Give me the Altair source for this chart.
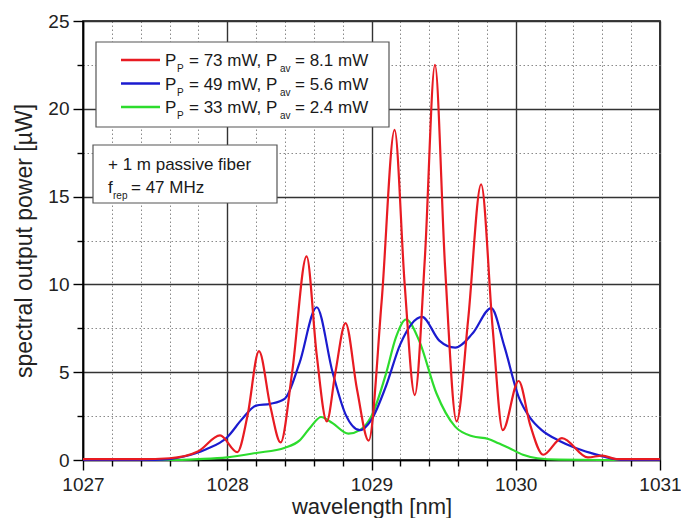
import altair as alt
import pandas as pd

FONT = "Liberation Sans"

# ---- data ----
red_wl = [1027.0, 1027.4, 1027.6, 1027.8, 1027.95, 1028.07, 1028.14, 1028.22, 1028.30, 1028.37,
          1028.45, 1028.55, 1028.62, 1028.69, 1028.75, 1028.82, 1028.90, 1028.98, 1029.07, 1029.16,
          1029.23, 1029.30, 1029.37, 1029.44, 1029.51, 1029.59, 1029.67, 1029.76, 1029.84, 1029.91,
          1030.02, 1030.10, 1030.19, 1030.32, 1030.50, 1030.60, 1030.70, 1031.0]
red_pw = [0.05, 0.05, 0.1, 0.5, 1.4, 0.45, 2.5, 6.2, 3.0, 1.0,
          5.0, 11.6, 6.0, 2.2, 5.0, 7.8, 4.0, 1.1, 9.0, 18.8,
          10.0, 3.7, 11.5, 22.5, 11.0, 2.2, 8.0, 15.7, 7.5, 1.7,
          4.5, 2.0, 0.3, 1.25, 0.15, 0.25, 0.05, 0.05]

blue_wl = [1027.0, 1027.5, 1027.7, 1027.85, 1028.0, 1028.1, 1028.2, 1028.3, 1028.4, 1028.5, 1028.62,
           1028.73, 1028.82, 1028.92, 1029.0, 1029.1, 1029.2, 1029.35, 1029.47, 1029.58, 1029.7,
           1029.83, 1029.92, 1030.02, 1030.1, 1030.18, 1030.3, 1030.41, 1030.52, 1030.62, 1030.75, 1031.0]
blue_pw = [0.0, 0.0, 0.2, 0.6, 1.3, 2.3, 3.1, 3.2, 3.5, 5.5, 8.7,
           5.0, 2.6, 1.7, 2.3, 4.2, 6.6, 8.15, 6.8, 6.4, 7.2,
           8.65, 6.5, 3.6, 2.4, 1.7, 1.1, 0.7, 0.4, 0.17, 0.0, 0.0]

green_wl = [1027.0, 1027.6, 1027.8, 1028.0, 1028.2, 1028.4, 1028.5, 1028.58, 1028.65, 1028.73, 1028.84,
            1028.92, 1029.0, 1029.1, 1029.17, 1029.24, 1029.33, 1029.45, 1029.58, 1029.7, 1029.81,
            1029.88, 1029.95, 1030.05, 1030.15, 1030.3, 1030.6, 1031.0]
green_pw = [0.0, 0.0, 0.05, 0.15, 0.4, 0.7, 1.1, 1.9, 2.45, 2.1, 1.5,
            1.7, 2.5, 4.9, 7.0, 8.0, 6.8, 3.8, 1.9, 1.35, 1.2,
            0.95, 0.7, 0.3, 0.1, 0.02, 0.0, 0.0]

x_ticks = [round(1027 + 0.2 * i, 1) for i in range(21)]
y_ticks = [2.5 * i for i in range(11)]

pump = ["73", "49", "33"]
pav = ["8.1", "5.6", "2.4"]
colors = ["#e81b22", "#1b1bcf", "#2ddc2d"]

W, H = 577, 439
OX, OY = 83, 21  # plot origin on page

xint = "abs(datum.value - round(datum.value)) < 0.001"
y5 = "abs(datum.value/5 - round(datum.value/5)) < 0.001"

xscale = alt.Scale(domain=[1027, 1031], nice=False, zero=False)
yscale = alt.Scale(domain=[0, 25], nice=False)

MINOR_GRID = "#8a8a8a"
MAJOR_GRID = "#333333"

xaxis = alt.Axis(
    values=x_ticks, tickCount=100, title="wavelength [nm]",
    labelExpr=f"{xint} ? format(datum.value, 'd') : ''", labelOverlap=False, labelFlush=False,
    grid=True,
    gridDash={"condition": {"test": xint, "value": []}, "value": [1.5, 2.5]},
    gridColor={"condition": {"test": xint, "value": MAJOR_GRID}, "value": MINOR_GRID},
    gridWidth={"condition": {"test": xint, "value": 1.4}, "value": 1},
    tickSize={"condition": {"test": xint, "value": 10}, "value": 6},
    tickColor="black", tickWidth=1.4, domainColor="black", domainWidth=1.6,
    labelFont=FONT, labelFontSize=19, labelColor="#222", labelPadding=5,
    titleFont=FONT, titleFontSize=22, titleFontWeight="normal", titleColor="#222", titlePadding=2,
)
yaxis = alt.Axis(
    values=y_ticks, tickCount=100, title="spectral output power [µW]",
    labelExpr=f"{y5} ? format(datum.value, 'd') : ''", labelOverlap=False,
    grid=True,
    gridDash={"condition": {"test": y5, "value": []}, "value": [1.5, 2.5]},
    gridColor={"condition": {"test": y5, "value": MAJOR_GRID}, "value": MINOR_GRID},
    gridWidth={"condition": {"test": y5, "value": 1.4}, "value": 1},
    tickSize={"condition": {"test": y5, "value": 10}, "value": 6},
    tickColor="black", tickWidth=1.4, domainColor="black", domainWidth=1.6,
    labelFont=FONT, labelFontSize=19, labelColor="#222", labelPadding=4,
    titleFont=FONT, titleFontSize=23, titleFontWeight="normal", titleColor="#222", titlePadding=11,
)


def series(wl, pw, color):
    df = pd.DataFrame({"wl": wl, "pw": pw})
    return alt.Chart(df).mark_line(color=color, strokeWidth=2.2, interpolate="monotone").encode(
        x=alt.X("wl:Q", scale=xscale, axis=xaxis),
        y=alt.Y("pw:Q", scale=yscale, axis=yaxis),
    )


def txt(s, px, py, size=17):
    return alt.Chart(pd.DataFrame({"t": [s]})).mark_text(
        align="left", baseline="alphabetic", font=FONT, fontSize=size, color="#1a1a1a"
    ).encode(text="t:N", x=alt.value(px - OX), y=alt.value(py - OY))


def box(x1, y1, x2, y2):
    return alt.Chart(pd.DataFrame({"a": [0]})).mark_rect(
        fill="white", stroke="#555", strokeWidth=1.2
    ).encode(x=alt.value(x1 - OX), x2=alt.value(x2 - OX), y=alt.value(y1 - OY), y2=alt.value(y2 - OY))


layers = [
    series(green_wl, green_pw, colors[2]),
    series(blue_wl, blue_pw, colors[1]),
    series(red_wl, red_pw, colors[0]),
]

# legend box
layers.append(box(96, 42, 389, 127))
row_y = [60, 83.5, 107]
for i in range(3):
    ry = row_y[i]
    layers.append(
        alt.Chart(pd.DataFrame({"a": [0]})).mark_rule(color=colors[i], strokeWidth=2.5).encode(
            x=alt.value(121 - OX), x2=alt.value(160 - OX), y=alt.value(ry - OY)
        )
    )
    layers.append(txt("P", 165, ry + 6))
    layers.append(txt("P", 177, ry + 12, 10))
    layers.append(txt(f"= {pump[i]} mW, P", 189, ry + 6))
    layers.append(txt("av", 280, ry + 12, 10))
    layers.append(txt(f"= {pav[i]} mW", 295, ry + 6))

# annotation box
layers.append(box(93, 145, 277, 203))
layers.append(txt("+ 1 m passive fiber", 108, 170))
layers.append(txt("f", 108, 193))
layers.append(txt("rep", 113, 199, 10))
layers.append(txt("= 47 MHz", 131, 193))

chart = alt.layer(*layers).properties(
    width=W, height=H,
    autosize=alt.AutoSizeParams(type="none"),
    padding={"left": OX - 8, "top": OY - 8, "right": 21, "bottom": 58},
    background="white",
).configure_view(stroke="black", strokeWidth=1.6)

chart.save("out.html", embed_options={"renderer": "svg", "actions": False})
